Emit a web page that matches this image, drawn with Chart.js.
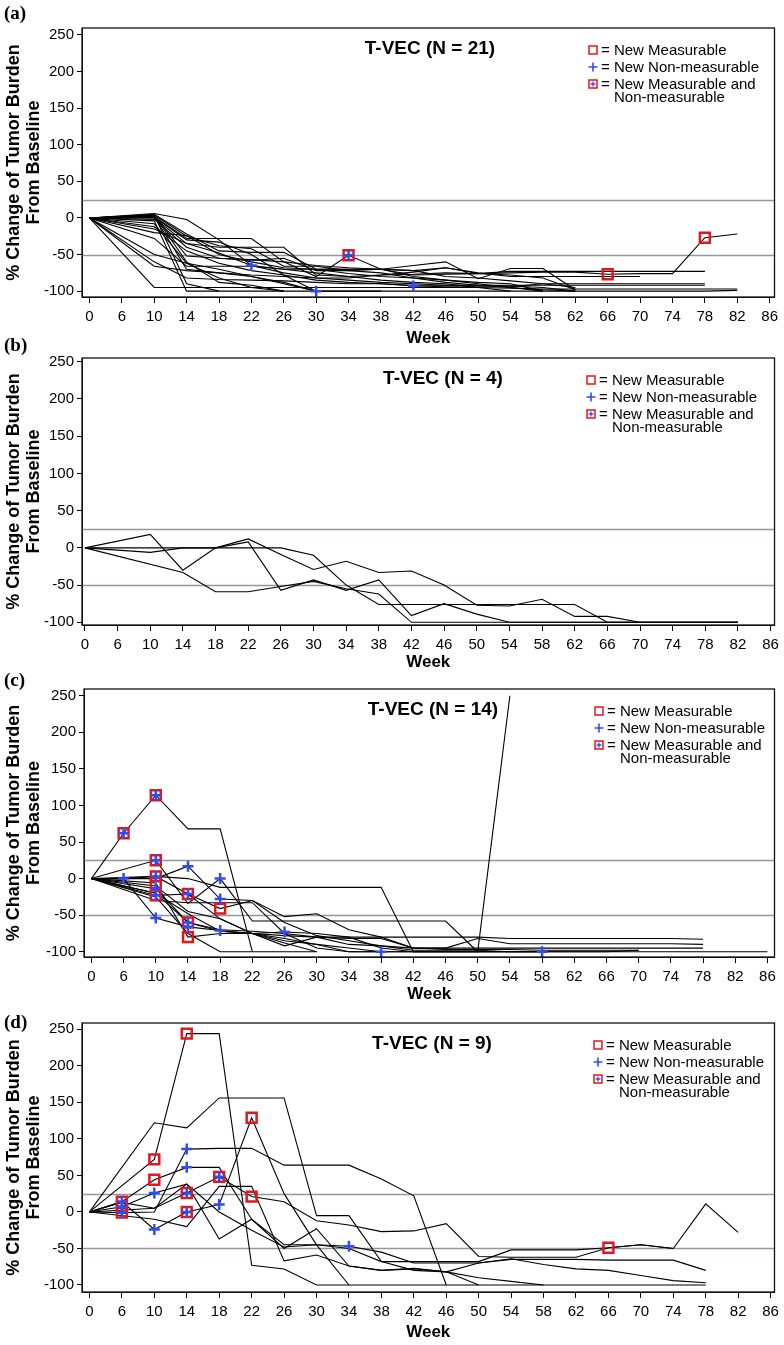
<!DOCTYPE html>
<html>
<head>
<meta charset="utf-8">
<script src="https://cdn.jsdelivr.net/npm/chart.js@4.4.1/dist/chart.umd.min.js"></script>
<style>
  body { margin: 0; background: #fff; width: 784px; height: 1345px; position: relative; overflow: hidden; }
  canvas { position: absolute; left: 0; }
  .plabel { position: absolute; left: 4px; font: bold 19px "Liberation Serif", "Times New Roman", serif; line-height: 20px; }
  .ptitle { position: absolute; font: bold 19px "Liberation Sans", Arial, sans-serif; transform: translate(-50%, -50%); white-space: nowrap; }
  .lrow { position: absolute; font: 15px "Liberation Sans", Arial, sans-serif; line-height: 18px; white-space: nowrap; display: flex; align-items: center; }
  .lrow svg { margin-right: 3px; }
</style>
</head>
<body>
<script>
// weeks on the x axis (evenly spaced visits)
const weeks = [0, 6, 10, 14, 18, 22, 26, 30, 34, 38, 42, 46, 50, 54, 58, 62, 66, 70, 74, 78, 82, 86];
const yTicks = [-100, -50, 0, 50, 100, 150, 200, 250];
const refLines = [25, -50];
const legendLabels = ["= New Measurable", "= New Non-measurable", "= New Measurable and", "Non-measurable"];

// (a) T-VEC (N = 21): % change per week, null = no assessment
const aLines = [
  [0, null, 6, -2, -30, -65, -75, -82, -85, -88, -90, -92, -92, -93, -95, -100],
  [0, null, 2, -28, -28, -28, -60, -80, -51, -70, -78, -77, -76, -75, -74, -74, -77, -76, -76, -27, -22],
  [0, null, 0, -35, -40, -40, -40, -78, -80, -78, -74, -68, -75, -80, -80, -80, -80, -80],
  [0, null, -95, -95, -95, -95, -95, -95, -95, -95, -95, -95, -95, -96, -97, -97, -97, -97, -97, -97, -97],
  [0, null, -60, -82, -84, -85, -86, -88, -90, -90, -92, -92, -92, -92, -92, -92, -92, -92, -92, -92],
  [0, null, -66, -72, -75, -80, -88, -100],
  [0, null, 3, -52, -55, -58, -55, -72, -72, -70, -65, -60, -83, -69, -69, -98],
  [0, null, -8, -62, -82, -95, -100],
  [0, null, -4, -100, -100, -100, -100, -100, -100, -100, -100, -100, -100, -100, -100, -100, -100, -100, -100, -100, -99],
  [0, null, 4, -90, -100],
  [0, null, -12, -45, -62, -72, -78, -100],
  [0, null, -20, -24, -50, -60, -68, -70, -70, -70, -72, -68, -76, -78, -82, -98],
  [0, null, 1, -30, -33, -50, -78, -85, -88, -90, -93, -94, -94, -94, -90, -90, -90, -90, -90, -90],
  [0, null, 2, -70, -75, -78, -80, -82, -82, -78, -77, -75, -76, -73, -73, -73, -73, -73, -73, -73],
  [0, null, -28, -66, -66, -66, -70, -70, -70, -70, -80, -85, -90, -95, -100],
  [0, null, 5, -22, -45, -47, -47, -70, -76, -80, -82, -85, -88, -90, -100],
  [0, null, -15, -35, -48, -65, -70, -75, -80, -85, -88, -90, -95, -100],
  [0, null, 3, -60, -88, -92, -100],
  [0, null, -2, -40, -55, -57, -60, -65, -68, -70, -72, -80, -82, -86, -90, -95],
  [0, null, -50, -62, -70, -80, -90, -100, -100, -100],
  [0, null, 4, -25, -38, -42, -66, -66, -72, -75, -82, -88, -92, -95, -98, -100]
];
const aMeasurable = [[66, -77], [78, -27]];
const aNonMeasurable = [[22, -65], [30, -100], [42, -93]];
const aBoth = [[34, -51]];

// (b) T-VEC (N = 4)
const bLines = [
  [0, null, 18, -30, 0, 12, -9, -29, -18, -33, -31, -50, -77, -78, -69, -92, -92, -100, -100, -100, -100],
  [0, null, -6, 0, 0, 8, -57, -43, -57, -43, -91, -75, -89, -100, -100, -100, -100, -100, -100, -100, -100],
  [0, null, null, 0, 0, 0, 0, -10, -50, -76, -76, -76, -76, -76, -76, -76, -100, -100, -100, -100, -100],
  [0, null, null, -33, -59, -59, -52, -45, -55, -62, -100, -100, -100, -100, -100, -100, -100, -100, -100, -100, -100]
];
const bMeasurable = [];
const bNonMeasurable = [];
const bBoth = [];

// (c) T-VEC (N = 14)
const cLines = [
  [0, 62, 114, 68, 68, -100],
  [0, null, 25, -34, 0, -58, -58, -58, -58, -58, -58, -58, -100, 250],
  [0, 0, 3, 0, -12, -12, -12, -12, -12, -12, -100, -100, -100, -100, -100, -100, -100, -100, -100, -100, -100, -100],
  [0, null, 0, 17, -28, -30, -52, -48, -70, -80, -80, -80, -80, -82, -82, -82, -82, -82, -82, -83],
  [0, 0, -54, -66, -71, -75, -73, -75, -80, -80, -95, -95, -95, -95, -95, -95, -95, -95, -95, -95],
  [0, null, -6, -80, -75, -75, -78, -80, -82, -82, -95, -97, -97, -97, -98, -98, -98, -98],
  [0, null, -23, -21, -41, -30, -60, -78, -85, -92, -98, -98, -98, -100, -100],
  [0, null, 3, -21, -55, -75, -82, -90, -100, -100],
  [0, null, -14, -60, -72, -75, -85, -90, -95, -100, -100, -100, -100, -100, -100],
  [0, null, -20, -48, -72, -75, -92, -80, -80, -95, -100, -100, -100],
  [0, null, -25, -75, -100, -100, -100, -100],
  [0, null, -30, -33, -33, -33, -75, -95, -100, -100, -100, -100, -100, -100, -100, -100, -100, -98],
  [0, null, -10, -45, -55, -75, -88, -100],
  [0, null, -20, -60, -70, -72, -75, -80, -90, -92, -95, -95, -82, -89, -89, -89, -89, -89, -89, -90]
];
const cMeasurable = [[10, -6], [14, -80], [18, -41]];
const cNonMeasurable = [[6, 0], [10, -14], [10, -54], [14, 17], [14, -66], [18, 0], [18, -28], [18, -71], [26, -73], [38, -100], [58, -100]];
const cBoth = [[6, 62], [10, 114], [10, 25], [10, 3], [10, -23], [14, -21], [14, -60]];

// (d) T-VEC (N = 9)
const dLines = [
  [0, null, 72, 244, 244, -73, -78, -100, -100, -100, -100, -100, -100, -100, -100, -100, -100, -100, -100, -100],
  [0, null, 122, 115, 156, 156, 156, -5, -5, -68, -80, -82, -70, -64, -72, -78, -80, -87, -94, -97],
  [0, -1, 0, 86, 87, 87, 64, 64, 64, 45, 22, -100],
  [0, 14, 44, 61, 61, -10, -45, -45, -50, -68, -68, -68, -68, -52, -52, -52, -49, -45, -50, 11, -28],
  [0, 7, 26, 38, 0, -25, -48, -45, -47, -55, -70, -70, -70, -65, -65, -65, -66, -66, -66, -80],
  [0, 13, 5, 26, 48, 21, 14, -12, -18, -27, -26, -16, -61, -62, -62, -62, -49, -45, -50],
  [0, 14, -24, 0, 10, 129, 25, -45, -100],
  [0, null, 5, 38, -37, -10, -50, -23, -74, -80, -77, -82, -100],
  [0, null, -10, -20, 35, 35, -67, -59, -74, -80, -78, -82, -90, -95, -100]
];
const dMeasurable = [[10, 72], [14, 244], [10, 44], [22, 129], [22, 21], [66, -49]];
const dNonMeasurable = [[10, 26], [10, -24], [14, 86], [14, 61], [18, 10], [34, -47]];
const dBoth = [[6, 14], [6, 7], [6, -1], [14, 26], [14, 0], [18, 48]];

const FONT = '"Liberation Sans", Arial, Helvetica, sans-serif';
const RED = "#e3161d";
const BLUE = "#2f4cf2";

const panels = [
  { label: "(a)", title: "T-VEC (N = 21)", lines: aLines, measurable: aMeasurable, nonMeasurable: aNonMeasurable, both: aBoth,
    top: 0, areaTop: 28, areaH: 269, xAxisH: 56, areaLeft: 82, areaRight: 778,
    xMin: -0.23, xMax: 21.15, yMin: -108, yMax: 259.5, labelY: 3, titleX: 430, legendX: 588 },
  { label: "(b)", title: "T-VEC (N = 4)", lines: bLines, measurable: bMeasurable, nonMeasurable: bNonMeasurable, both: bBoth,
    top: 330, areaTop: 28, areaH: 267, xAxisH: 52, areaLeft: 82, areaRight: 776,
    xMin: -0.09, xMax: 21.12, yMin: -103.6, yMax: 255, labelY: 335, titleX: 443, legendX: 586 },
  { label: "(c)", title: "T-VEC (N = 14)", lines: cLines, measurable: cMeasurable, nonMeasurable: cNonMeasurable, both: cBoth,
    top: 660, areaTop: 29, areaH: 268, xAxisH: 52, areaLeft: 84, areaRight: 781,
    xMin: -0.23, xMax: 21.22, yMin: -107.2, yMax: 259.2, labelY: 670, titleX: 433, legendX: 594 },
  { label: "(d)", title: "T-VEC (N = 9)", lines: dLines, measurable: dMeasurable, nonMeasurable: dNonMeasurable, both: dBoth,
    top: 1000, areaTop: 23, areaH: 269, xAxisH: 55, areaLeft: 82, areaRight: 779,
    xMin: -0.23, xMax: 21.12, yMin: -109.6, yMax: 258.6, labelY: 1012, titleX: 432, legendX: 593 }
];

const toPoints = (vals) => vals.map((v, i) => (v == null ? null : { x: i, y: v })).filter(Boolean);
const markPoints = (pairs) => pairs.map(([w, v]) => ({ x: weeks.indexOf(w), y: v }));

// horizontal reference lines at +25 and -50
const refLinePlugin = {
  id: "refLines",
  beforeDatasetsDraw(chart) {
    const { ctx, chartArea: a, scales: { y } } = chart;
    ctx.save();
    ctx.strokeStyle = "#8a9a9f";
    ctx.lineWidth = 1.5;
    refLines.forEach((v) => {
      const py = Math.round(y.getPixelForValue(v)) + 0.5;
      ctx.beginPath();
      ctx.moveTo(a.left, py);
      ctx.lineTo(a.right, py);
      ctx.stroke();
    });
    ctx.restore();
  },
};

const framePlugin = {
  id: "frame",
  afterDatasetsDraw(chart) {
    const { ctx, chartArea: a } = chart;
    ctx.save();
    ctx.strokeStyle = "#111";
    ctx.lineWidth = 1.3;
    ctx.strokeRect(a.left, a.top, a.right - a.left, a.bottom - a.top);
    ctx.restore();
  },
};

const icons = {
  sq: '<svg width="10" height="10"><rect x="1" y="1" width="8" height="8" fill="none" stroke="' + RED + '" stroke-width="1.5"/></svg>',
  plus: '<svg width="10" height="10"><path d="M5 0.5V9.5M0.5 5H9.5" stroke="' + BLUE + '" stroke-width="1.6"/></svg>',
  both: '<svg width="10" height="10"><rect x="1" y="1" width="8" height="8" fill="none" stroke="' + RED + '" stroke-width="1.5"/><path d="M5 2.6V7.4M2.6 5H7.4" stroke="' + BLUE + '" stroke-width="1.3"/></svg>',
};

const addText = (cls, text, left, top) => {
  const el = document.createElement("div");
  el.className = cls;
  el.textContent = text;
  el.style.left = left + "px";
  el.style.top = top + "px";
  document.body.appendChild(el);
  return el;
};

const addLegend = (p) => {
  const base = p.top + p.areaTop;
  const rows = [
    { icon: icons.sq, text: legendLabels[0], cy: 21.5 },
    { icon: icons.plus, text: legendLabels[1], cy: 39 },
    { icon: icons.both, text: legendLabels[2], cy: 56 },
  ];
  rows.forEach((r) => {
    const el = document.createElement("div");
    el.className = "lrow";
    el.innerHTML = r.icon;
    el.appendChild(document.createTextNode(r.text));
    el.style.left = p.legendX + "px";
    el.style.top = base + r.cy - 9 + "px";
    document.body.appendChild(el);
  });
  addText("lrow", legendLabels[3], p.legendX + 26, base + 68.5 - 9);
};

const renderPanel = (p) => {
  const canvas = document.createElement("canvas");
  canvas.width = 784;
  canvas.height = p.areaTop + p.areaH + p.xAxisH;
  canvas.style.top = p.top + "px";
  document.body.appendChild(canvas);

  const datasets = p.lines.map((vals) => ({
    data: toPoints(vals),
    borderColor: "#000",
    borderWidth: 1.1,
    pointRadius: 0,
    tension: 0,
    fill: false,
    order: 3,
  }));
  datasets.push({
    data: markPoints(p.measurable.concat(p.both)),
    showLine: false,
    pointStyle: "rect",
    pointRadius: 7,
    pointBorderColor: RED,
    pointBorderWidth: 2.5,
    pointBackgroundColor: "rgba(255,255,255,0)",
    order: 2,
  });
  datasets.push({
    data: markPoints(p.nonMeasurable.concat(p.both)),
    showLine: false,
    pointStyle: "cross",
    pointRadius: 5.5,
    pointBorderColor: BLUE,
    pointBorderWidth: 2.5,
    order: 1,
  });

  new Chart(canvas, {
    type: "line",
    data: { datasets },
    plugins: [refLinePlugin, framePlugin],
    options: {
      responsive: false,
      animation: false,
      devicePixelRatio: 1,
      layout: { padding: { top: p.areaTop, right: 784 - p.areaRight, left: 0, bottom: 0 } },
      plugins: { legend: { display: false }, tooltip: { enabled: false } },
      scales: {
        x: {
          type: "linear",
          min: p.xMin,
          max: p.xMax,
          afterBuildTicks: (s) => { s.ticks = weeks.map((w, i) => ({ value: i })); },
          afterFit: (s) => { s.height = p.xAxisH; },
          ticks: { callback: (v) => weeks[v], autoSkip: false, maxRotation: 0, minRotation: 0, color: "#000", font: { family: FONT, size: 15 }, padding: 5 },
          grid: { drawOnChartArea: false, tickLength: 6, color: "#000" },
          border: { color: "#111" },
          title: { display: true, text: "Week", color: "#000", font: { family: FONT, size: 17, weight: "bold" }, padding: { top: 0, bottom: 4 } },
        },
        y: {
          type: "linear",
          min: p.yMin,
          max: p.yMax,
          afterBuildTicks: (s) => { s.ticks = yTicks.map((v) => ({ value: v })); },
          afterFit: (s) => { s.width = p.areaLeft; },
          ticks: { color: "#000", font: { family: FONT, size: 15 }, padding: 3 },
          grid: { drawOnChartArea: false, tickLength: 5, color: "#000" },
          border: { color: "#111" },
          title: { display: true, text: ["% Change of Tumor Burden", "From Baseline"], color: "#000", font: { family: FONT, size: 18, weight: "bold", lineHeight: 1.1 }, padding: { top: 4, bottom: 0 } },
        },
      },
    },
  });

  addText("plabel", p.label, 4, p.labelY);
  addText("ptitle", p.title, p.titleX, p.top + p.areaTop + 20);
  addLegend(p);
};

panels.forEach(renderPanel);
</script>
</body>
</html>
